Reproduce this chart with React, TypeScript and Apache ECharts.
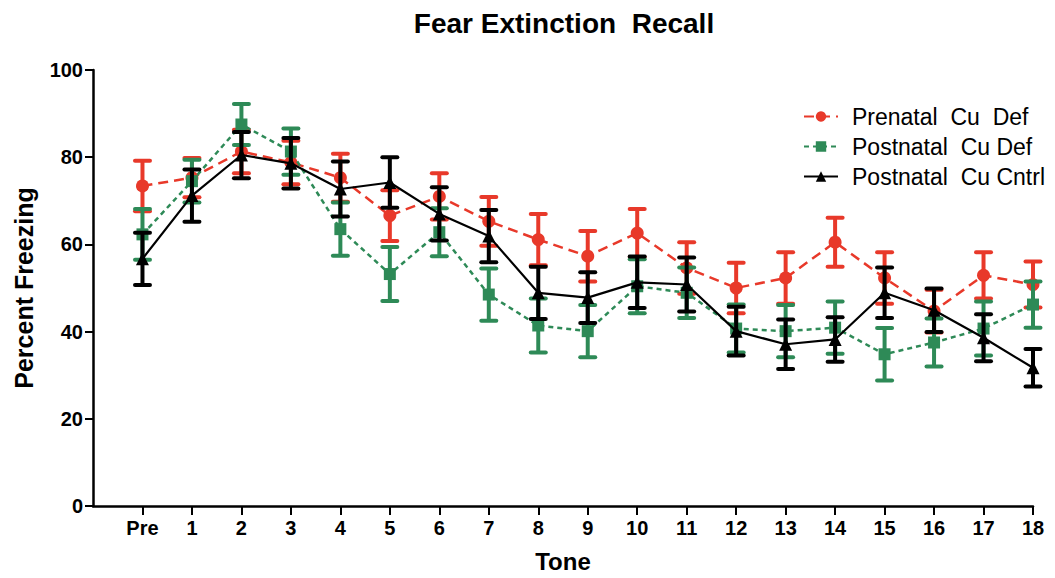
import React, { useEffect, useRef } from "react";
import * as echarts from "echarts";

const toneLabels = ["Pre", "1", "2", "3", "4", "5", "6", "7", "8", "9", "10", "11", "12", "13", "14", "15", "16", "17", "18"];
const yTicks = [0, 20, 40, 60, 80, 100];

const seriesNames = ["Prenatal  Cu  Def", "Postnatal  Cu Def", "Postnatal  Cu Cntrl"];

const prenatalMean = [73.4, 75.3, 81.3, 78.8, 75.3, 66.6, 71.0, 65.3, 61.1, 57.3, 62.6, 54.6, 50.0, 52.3, 60.5, 52.3, 44.7, 52.9, 50.8];
const prenatalSem = [5.8, 4.5, 5.0, 5.0, 5.5, 5.8, 5.3, 5.6, 5.9, 5.8, 5.5, 5.9, 5.8, 5.9, 5.6, 5.9, 4.9, 5.3, 5.3];

const postnatalMean = [62.3, 74.5, 87.5, 81.3, 63.5, 53.2, 62.8, 48.5, 41.4, 40.1, 50.4, 48.9, 40.7, 40.1, 40.9, 34.8, 37.5, 40.7, 46.2];
const postnatalSem = [5.8, 4.9, 4.7, 5.3, 6.1, 6.2, 5.5, 6.0, 6.2, 6.0, 6.2, 5.8, 5.5, 6.0, 6.0, 6.0, 5.5, 6.2, 5.3];

const controlMean = [56.7, 71.2, 80.5, 78.6, 72.7, 74.2, 67.0, 61.9, 48.9, 47.8, 51.3, 50.8, 40.1, 37.1, 38.2, 48.9, 44.9, 38.6, 31.7];
const controlSem = [6.0, 6.0, 5.3, 5.8, 6.3, 5.8, 6.1, 6.0, 6.0, 5.8, 5.9, 6.2, 5.6, 5.7, 5.1, 5.8, 5.0, 5.4, 4.3];

const RED = "#e8392a";
const GREEN = "#2e8a57";
const BLACK = "#000000";

const SANS = "'Liberation Sans', Arial, sans-serif";

function errorSeries(name: string, mean: number[], sem: number[], color: string, z: number) {
  return {
    name,
    type: "custom",
    z,
    silent: true,
    data: mean.map((m, i) => [i, m - sem[i], m + sem[i]]),
    renderItem: (_params: any, api: any) => {
      const x = api.value(0);
      const lo = api.coord([x, api.value(1)]);
      const hi = api.coord([x, api.value(2)]);
      const hw = 7.5;
      const st = { stroke: color, lineWidth: 4, lineCap: "round" };
      return {
        type: "group",
        children: [
          { type: "line", shape: { x1: lo[0], y1: lo[1], x2: hi[0], y2: hi[1] }, style: { stroke: color, lineWidth: 4 } },
          { type: "line", shape: { x1: hi[0] - hw, y1: hi[1], x2: hi[0] + hw, y2: hi[1] }, style: st },
          { type: "line", shape: { x1: lo[0] - hw, y1: lo[1], x2: lo[0] + hw, y2: lo[1] }, style: st },
        ],
      };
    },
  };
}

function lineSeries(name: string, mean: number[], color: string, symbol: string, symbolSize: number, lineType: any, width: number, z: number) {
  return {
    name,
    type: "line",
    z,
    data: mean.map((m, i) => [i, m]),
    symbol,
    symbolSize,
    itemStyle: { color },
    lineStyle: { color, width, type: lineType },
  };
}

export default function App() {
  const ref = useRef<HTMLDivElement>(null);
  useEffect(() => {
    if (!ref.current) return;
    const chart = echarts.init(ref.current, null, { renderer: "svg" });
    const tickIdx = toneLabels.map((_, i) => i);
    chart.setOption({
      animation: false,
      backgroundColor: "#ffffff",
      graphic: [
        {
          type: "text",
          x: 564,
          y: 9,
          style: {
            text: "Fear Extinction  Recall",
            textAlign: "center",
            fontFamily: SANS,
            fontWeight: "bold",
            fontSize: 28,
            fill: "#000",
          },
        },
      ],
      grid: { left: 93, right: 22, top: 70, bottom: 71, containLabel: false },
      legend: {
        orient: "vertical",
        left: 798,
        top: 100,
        itemWidth: 34,
        itemHeight: 13,
        itemGap: 7,
        data: seriesNames,
        textStyle: { fontFamily: SANS, fontSize: 23, color: "#000", padding: [0, 0, 0, 9] },
      },
      xAxis: {
        type: "value",
        min: -1,
        max: 18,
        interval: 1,
        splitLine: { show: false },
        axisLine: { onZero: false, lineStyle: { color: "#000", width: 2.5 } },
        axisTick: { show: true, length: 9, lineStyle: { color: "#000", width: 2 }, customValues: tickIdx },
        axisLabel: {
          customValues: tickIdx,
          formatter: (v: number) => toneLabels[Math.round(v)] ?? "",
          margin: 12,
          fontFamily: SANS,
          fontWeight: "bold",
          fontSize: 20,
          color: "#000",
        },
        name: "Tone",
        nameLocation: "middle",
        nameGap: 43,
        nameTextStyle: { fontFamily: SANS, fontWeight: "bold", fontSize: 24, color: "#000" },
      },
      yAxis: {
        type: "value",
        min: 0,
        max: 100,
        interval: 20,
        splitLine: { show: false },
        axisLine: { show: true, onZero: false, lineStyle: { color: "#000", width: 2.5 } },
        axisTick: { show: true, length: 8, lineStyle: { color: "#000", width: 2 } },
        axisLabel: {
          customValues: yTicks,
          margin: 10,
          fontFamily: SANS,
          fontWeight: "bold",
          fontSize: 20,
          color: "#000",
        },
        name: "Percent Freezing",
        nameLocation: "middle",
        nameGap: 57,
        nameTextStyle: { fontFamily: SANS, fontWeight: "bold", fontSize: 25, color: "#000" },
      },
      series: [
        errorSeries("err0", prenatalMean, prenatalSem, RED, 2),
        lineSeries(seriesNames[0], prenatalMean, RED, "circle", 13, [10, 6], 2.5, 3),
        errorSeries("err1", postnatalMean, postnatalSem, GREEN, 4),
        lineSeries(seriesNames[1], postnatalMean, GREEN, "rect", 12, [5, 4], 2.5, 5),
        errorSeries("err2", controlMean, controlSem, BLACK, 6),
        lineSeries(seriesNames[2], controlMean, BLACK, "triangle", 13, "solid", 2.2, 7),
      ],
    });
    return () => chart.dispose();
  }, []);
  return <div ref={ref} style={{ position: "fixed", left: 0, top: 0, width: 1055, height: 578 }} />;
}
